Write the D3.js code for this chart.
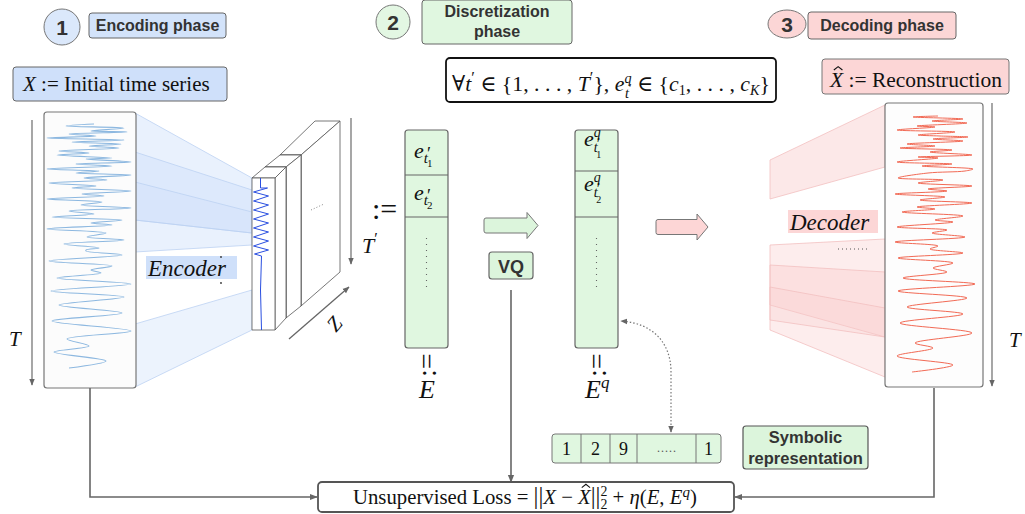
<!DOCTYPE html>
<html><head><meta charset="utf-8">
<script src="https://cdn.jsdelivr.net/npm/d3@7/dist/d3.min.js"></script>
<style>html,body{margin:0;padding:0;background:#fff;}</style>
</head><body>
<script>
// ---------- data ----------
const phaseNumbers = ["1", "2", "3"];
const phaseTitles = [["Encoding phase"], ["Discretization", "phase"], ["Decoding phase"]];
// input time series X (drawn vertically: time = step down the box, value = horizontal)
const inputTime = [12,14,16,19,20,22,24,26,28,30,32,34,36,39,41,43,46,47,50,52,54,57,59,61,63,66,68,71,74,76,79,82,84,87,90,93,96,99,102,105,108,111,113,117,121,125,128,132,136,138,139,143,149,154,158,161,166,172,179,185,193,201,209,219,227,234,240,249,256];
const inputValue = [50,22,80,47,83,25,52,3,80,28,77,45,75,15,45,13,68,42,87,32,68,3,55,32,87,40,63,5,52,28,87,38,60,3,58,37,87,25,50,8,78,47,68,3,62,43,80,20,55,42,42,78,5,68,47,57,13,87,7,80,15,78,8,87,23,45,10,62,25];
// reconstruction X-hat
const reconTime = [13,14,16,18,20,23,24,27,29,32,33,34,36,38,41,43,45,47,49,52,54,55,59,61,63,66,68,70,75,77,80,83,86,88,91,94,97,100,104,106,109,113,117,119,124,127,130,134,139,143,146,150,155,160,165,169,175,181,188,195,204,211,220,230,240,245,253,262,269];
const reconValue = [53,28,78,47,82,32,50,12,70,33,55,83,48,78,22,50,15,67,45,87,33,53,12,67,37,88,80,43,13,58,33,87,43,62,10,60,35,87,32,50,17,78,50,68,12,62,47,80,10,53,45,78,13,68,48,62,18,90,13,82,22,78,15,87,30,48,12,68,27];
// encoder feature signal
const encTime = [0,10,10,14,18,23,27,32,36,41,45,50,54,59,63,68,72,76,78,112,152];
const encValue = [8,8,15,1,16,1,16,1,16,1,16,1,16,1,16,1,16,2,9,8,9];
// symbolic representation
const symbols = ["1", "2", "9", "·····", "1"];
const symbolWidths = [29, 29, 27, 59, 25];

// ---------- setup ----------
const W = 1025, H = 514;
const SERIF = "'Liberation Serif','DejaVu Serif',serif";
const SANS = "'Liberation Sans',Arial,sans-serif";
const svg = d3.select("body").append("svg").attr("width", W).attr("height", H);
const defs = svg.append("defs");
defs.append("marker").attr("id", "ah").attr("viewBox", "0 0 10 10").attr("refX", 9).attr("refY", 5)
  .attr("markerWidth", 7).attr("markerHeight", 7).attr("orient", "auto-start-reverse").attr("markerUnits", "userSpaceOnUse")
  .append("path").attr("d", "M0,1 L10,5 L0,9 Z").attr("fill", "#666");
defs.append("marker").attr("id", "ahs").attr("viewBox", "0 0 10 10").attr("refX", 9).attr("refY", 5)
  .attr("markerWidth", 8).attr("markerHeight", 8).attr("orient", "auto-start-reverse").attr("markerUnits", "userSpaceOnUse")
  .append("path").attr("d", "M0,1 L10,5 L0,9 Z").attr("fill", "#666");

const BLUE = "#d3e3fa", GREEN = "#e0f7e0", PINK = "#fcd6d6";

function rr(x, y, w, h, fill, stroke, sw, r) {
  return svg.append("rect").attr("x", x).attr("y", y).attr("width", w).attr("height", h)
    .attr("rx", r == null ? 3 : r).attr("fill", fill).attr("stroke", stroke || "#666").attr("stroke-width", sw || 1);
}
function label(x, y, txt, size, opts) {
  opts = opts || {};
  return svg.append("text").attr("x", x).attr("y", y).text(txt)
    .attr("font-family", opts.family || SANS).attr("font-size", size)
    .attr("font-weight", opts.weight || "normal").attr("font-style", opts.style || "normal")
    .attr("text-anchor", opts.anchor || "start").attr("fill", opts.fill || "#111");
}
// math text with explicit vertical offsets; k scales everything
function math(x, y, size, segs, anchor, k) {
  k = k || 1;
  const t = svg.append("text").attr("x", x).attr("y", y).attr("font-family", SERIF)
    .attr("font-size", size * k).attr("fill", "#111").attr("text-anchor", anchor || "start");
  let cur = 0, idx = 0;
  const hats = [];
  segs.forEach(s => {
    const o = (s.o || 0) * k;
    const ts = t.append("tspan").text(s.t).attr("dy", o - cur);
    cur = o;
    if (s.i) ts.attr("font-style", "italic");
    if (s.s) ts.attr("font-size", s.s * k);
    if (s.dx) ts.attr("dx", s.dx * k);
    if (s.h) hats.push(idx);
    idx += s.t.length;
  });
  hats.forEach(ci => {
    const e = t.node().getExtentOfChar(ci);
    const cx = e.x + e.width * 0.62, s = size * k;
    svg.append("path").attr("d", d3.line()([[cx - 0.2 * s, y - 0.79 * s], [cx, y - 0.95 * s], [cx + 0.2 * s, y - 0.79 * s]]))
      .attr("fill", "none").attr("stroke", "#111").attr("stroke-width", Math.max(0.9, s * 0.05));
  });
  return t;
}
function line(pts, stroke, sw, dash, markEnd, markStart) {
  const p = svg.append("path").attr("d", d3.line()(pts)).attr("fill", "none")
    .attr("stroke", stroke || "#666").attr("stroke-width", sw || 1.5);
  if (dash) p.attr("stroke-dasharray", dash);
  if (markEnd) p.attr("marker-end", "url(#" + markEnd + ")");
  if (markStart) p.attr("marker-start", "url(#" + markStart + ")");
  return p;
}
function poly(pts, fill, op, stroke) {
  return svg.append("polygon").attr("points", pts.map(p => p.join(",")).join(" "))
    .attr("fill", fill).attr("fill-opacity", op == null ? 1 : op)
    .attr("stroke", stroke || "none").attr("stroke-width", 0.8);
}
function measureW(size, segs) {
  const g = math(0, -100, size, segs.map(s => Object.assign({}, s, {h: 0})), "start", 1);
  const w = g.node().getBBox().width; g.remove(); return w;
}
function fit(x, y, size, segs, target, anchor) {
  const k = target / measureW(size, segs);
  return math(x, y, size, segs, anchor, k);
}

// ---------- phase headers ----------
const circleSpec = [{cx: 62, cy: 27, rx: 18, ry: 18, fill: "#dbe8fb"}, {cx: 393, cy: 22, rx: 17, ry: 17, fill: "#e3f7e3"}, {cx: 787, cy: 24, rx: 19, ry: 14, fill: PINK}];
const titleBox = [{x: 89, y: 13, w: 137, h: 25, fill: BLUE}, {x: 422, y: 0, w: 150, h: 44, fill: GREEN}, {x: 808, y: 12, w: 148, h: 27, fill: PINK}];
phaseNumbers.forEach((n, i) => {
  const c = circleSpec[i];
  svg.append("ellipse").attr("cx", c.cx).attr("cy", c.cy).attr("rx", c.rx).attr("ry", c.ry)
    .attr("fill", c.fill).attr("stroke", "#777").attr("stroke-width", 1);
  label(c.cx, c.cy + 7.5, n, 21, {weight: "bold", anchor: "middle", fill: "#333"});
  const b = titleBox[i];
  rr(b.x, b.y, b.w, b.h, b.fill, "#666", 1, 3);
  const lines = phaseTitles[i];
  lines.forEach((l, j) => {
    const yy = lines.length === 1 ? b.y + b.h / 2 + 5.5 : b.y + 17 + j * 20;
    label(b.x + b.w / 2, yy, l, 16, {weight: "bold", anchor: "middle", fill: "#333"});
  });
});

rr(13, 67, 214, 34, "#cfe0fa", "#666", 1, 3);
fit(23, 91, 20, [{t: "X", i: 1}, {t: " := Initial time series"}], 188);
rr(822, 59, 187, 35, PINK, "#777", 1, 3);
fit(830, 87, 20, [{t: "X", i: 1, h: 1}, {t: " := Reconstruction"}], 173);

rr(446, 58, 330, 44, "#fff", "#111", 1.8, 4);
fit(452, 91, 20, [
  {t: "∀"}, {t: "t", i: 1}, {t: "′", o: -7, s: 15}, {t: "  ∈ {1, . . . , "}, {t: "T", i: 1}, {t: "′", o: -7, s: 15},
  {t: "}, "}, {t: "e", i: 1}, {t: "q", i: 1, o: -7, s: 13}, {t: "t", i: 1, o: 6, s: 13, dx: -6}, {t: "′", o: 1, s: 11},
  {t: "  ∈ {"}, {t: "c", i: 1}, {t: "1", o: 4, s: 13}, {t: ", . . . , "}, {t: "c", i: 1}, {t: "K", i: 1, o: 4, s: 13}, {t: "}"}
], 318);

// ---------- encoding phase ----------
poly([[135,113],[252,178],[252,245],[135,252]], "#cfe0fa", 0.45, "#bcd2f2");
poly([[135,152],[252,190],[252,233],[135,220]], "#cfe0fa", 0.45, "#bcd2f2");
poly([[135,182],[252,212],[252,233],[135,220]], "#cfe0fa", 0.35, "#bcd2f2");
poly([[135,324],[252,290],[252,330],[135,387]], "#cfe0fa", 0.4, "#bcd2f2");

rr(44, 112, 92, 276, "#fcfcfc", "#777", 1.2, 3);
const inX = d3.scaleLinear().domain([0, 92]).range([44, 136]);
const inY = d3.scaleLinear().domain([0, 276]).range([112, 388]);
svg.append("path").datum(d3.zip(inputTime, inputValue))
  .attr("d", d3.line().x(d => inX(d[1])).y(d => inY(d[0])).curve(d3.curveCatmullRom.alpha(0.5)))
  .attr("fill", "none").attr("stroke", "#8db8e0").attr("stroke-width", 1.05);
line([[32, 120], [32, 385]], "#777", 1.3, null, "ah");
math(9, 346, 21, [{t: "T", i: 1}]);

const face = (pts) => poly(pts, "#fff", 1, "#555");
face([[280,155],[315,121],[340,121],[301,155]]);
face([[301,155],[340,121],[340,272],[301,306]]);
face([[280,155],[301,155],[301,306],[280,306]]);
face([[265,167],[280,155],[301,155],[286,167]]);
face([[286,167],[301,155],[301,306],[286,318]]);
face([[265,167],[286,167],[286,318],[265,318]]);
face([[252,178],[265,167],[286,167],[275,178]]);
face([[275,178],[286,167],[286,318],[275,330]]);
face([[252,178],[275,178],[275,330],[252,330]]);
const eX = d3.scaleLinear().domain([0, 16]).range([252.5, 268.5]);
const eY = d3.scaleLinear().domain([0, 152]).range([178, 330]);
svg.append("path").datum(d3.zip(encTime, encValue))
  .attr("d", d3.line().x(d => eX(d[1])).y(d => eY(d[0])))
  .attr("fill", "none").attr("stroke", "#2a4fe0").attr("stroke-width", 1);
line([[311, 210], [324, 204]], "#888", 1, "1,2");
line([[289, 339], [349, 287]], "#666", 1.3, null, "ah");
math(0, 0, 21, [{t: "Z", i: 1}]).attr("transform", "translate(336,333) rotate(-50)");
rr(146, 256, 91, 23, "#cfe0fa", "none", 0, 0);
math(148, 276, 23, [{t: "Encoder", i: 1}]);
svg.append("circle").attr("cx", 221).attr("cy", 257).attr("r", 0.9).attr("fill", "#333");
svg.append("circle").attr("cx", 221).attr("cy", 283).attr("r", 0.9).attr("fill", "#333");

line([[351, 118], [351, 264]], "#777", 1.3, null, "ah");
math(362, 253, 22, [{t: "T", i: 1}, {t: "′", o: -9, s: 16}]);
math(372, 219, 30, [{t: ":="}]);

// ---------- discretization ----------
function column(x, cells, tex) {
  rr(x, 130, 43, 218, GREEN, "#666", 1.2, 3);
  cells.forEach(yy => line([[x, yy], [x + 43, yy]], "#666", 1.1));
  tex.forEach(f => f(x));
  svg.append("line").attr("x1", x + 21.5).attr("x2", x + 21.5).attr("y1", 238).attr("y2", 292)
    .attr("stroke", "#666").attr("stroke-width", 1.1).attr("stroke-dasharray", "1,5");
}
column(405, [175, 217], [
  x => math(x + 9, 158, 22, [{t: "e", i: 1}, {t: "t", i: 1, o: 5, s: 15}, {t: "′", o: 2, s: 18, dx: -1}, {t: "1", o: 9, s: 11, dx: -4}]),
  x => math(x + 9, 200, 22, [{t: "e", i: 1}, {t: "t", i: 1, o: 5, s: 15}, {t: "′", o: 2, s: 18, dx: -1}, {t: "2", o: 9, s: 11, dx: -4}])
]);
column(575, [171, 217], [
  x => math(x + 9, 146, 22, [{t: "e", i: 1}, {t: "q", i: 1, o: -9, s: 14}, {t: "t", i: 1, o: 6, s: 14, dx: -7}, {t: "′", o: 3, s: 16, dx: -1}, {t: "1", o: 12, s: 10, dx: -4}]),
  x => math(x + 9, 191, 22, [{t: "e", i: 1}, {t: "q", i: 1, o: -9, s: 14}, {t: "t", i: 1, o: 6, s: 14, dx: -7}, {t: "′", o: 3, s: 16, dx: -1}, {t: "2", o: 12, s: 10, dx: -4}])
]);
math(0, 0, 28, [{t: ":="}]).attr("transform", "translate(436,377) rotate(-90)");
math(0, 0, 28, [{t: ":="}]).attr("transform", "translate(606,377) rotate(-90)");
math(427, 398, 26, [{t: "E", i: 1}], "middle");
math(585, 398, 26, [{t: "E", i: 1}, {t: "q", i: 1, o: -10, s: 17}]);

function blockArrow(x0, x1, cy, fill) {
  const bh = 7.5, hh = 13, hx = x1 - 11;
  const d = `M${x0 + 2},${cy - bh} L${hx},${cy - bh} L${hx},${cy - hh} L${x1},${cy} L${hx},${cy + hh} L${hx},${cy + bh} L${x0 + 2},${cy + bh} Q${x0},${cy + bh} ${x0},${cy + bh - 2} L${x0},${cy - bh + 2} Q${x0},${cy - bh} ${x0 + 2},${cy - bh} Z`;
  svg.append("path").attr("d", d).attr("fill", fill).attr("stroke", "#777").attr("stroke-width", 1);
}
blockArrow(484, 538, 225.5, "#dcf5dc");
blockArrow(656, 708, 227, "#fdd6d6");
rr(489, 252, 44, 27, "#dcf5dc", "#666", 1.2, 3);
label(511, 272.5, "VQ", 18, {weight: "bold", anchor: "middle", fill: "#333"});
line([[511, 290], [511, 482]], "#666", 1.6, null, "ahs");

let sx = 552;
rr(552, 434, 169, 29, GREEN, "#777", 1, 3);
symbols.forEach((s, i) => {
  const w = symbolWidths[i];
  if (i > 0) line([[sx, 434], [sx, 463]], "#777", 1);
  math(sx + w / 2, 455, 18, [{t: s}], "middle").attr("font-size", s.length > 2 ? 12 : 18).attr("fill", s.length > 2 ? "#555" : "#111");
  sx += w;
});
rr(743, 426, 125, 43, "#dcf5dc", "#555", 1.2, 3);
label(805.5, 443, "Symbolic", 16.5, {weight: "bold", anchor: "middle", fill: "#333"});
label(805.5, 464, "representation", 16.5, {weight: "bold", anchor: "middle", fill: "#333"});
svg.append("path").attr("d", "M671,432 L671,372 C671,342 652,323 621,321").attr("fill", "none")
  .attr("stroke", "#777").attr("stroke-width", 1.2).attr("stroke-dasharray", "1.5,2")
  .attr("marker-end", "url(#ah)").attr("marker-start", "url(#ah)");

// ---------- decoding ----------
poly([[770,160],[885,105],[885,167],[770,199]], "#f9cccc", 0.45, "#f2c0c0");
poly([[770,245],[885,239],[885,377],[770,330]], "#f9cccc", 0.35, "#f2c0c0");
poly([[770,265],[885,272],[885,337],[770,305]], "#f9cccc", 0.4, "#f2c0c0");
poly([[770,287],[885,308],[885,337],[770,320]], "#f9cccc", 0.3, "#f2c0c0");
rr(788, 210, 90, 23, PINK, "none", 0, 0);
math(790, 230, 23, [{t: "Decoder", i: 1}]);
line([[838, 249], [868, 249]], "#555", 1, "1,3");

rr(885, 103, 98, 284, "#fdfdfd", "#777", 1.2, 3);
const rX = d3.scaleLinear().domain([0, 98]).range([885, 983]);
const rY = d3.scaleLinear().domain([0, 284]).range([103, 387]);
svg.append("path").datum(d3.zip(reconTime, reconValue))
  .attr("d", d3.line().x(d => rX(d[1])).y(d => rY(d[0])).curve(d3.curveCatmullRom.alpha(0.5)))
  .attr("fill", "none").attr("stroke", "#f26a55").attr("stroke-width", 1);
line([[992, 103], [992, 386]], "#777", 1.3, null, "ah");
math(1009, 347, 21, [{t: "T", i: 1}]);

// ---------- loss ----------
rr(318, 482, 416, 30, "#fff", "#555", 1.8, 4);
line([[90, 388], [90, 497], [317, 497]], "#666", 1.6, null, "ahs");
line([[934, 388], [934, 497], [735, 497]], "#666", 1.6, null, "ahs");
fit(353, 504, 18, [
  {t: "Unsupervised Loss = "}, {t: "||", s: 21}, {t: "X", i: 1}, {t: " − "}, {t: "X", i: 1, h: 1}, {t: "||", s: 21},
  {t: "2", o: -7, s: 12}, {t: "2", o: 4, s: 12, dx: -6}, {t: " + "}, {t: "η", i: 1}, {t: "("}, {t: "E", i: 1}, {t: ", "},
  {t: "E", i: 1}, {t: "q", i: 1, o: -6, s: 13}, {t: ")"}
], 344);
</script>
</body></html>
